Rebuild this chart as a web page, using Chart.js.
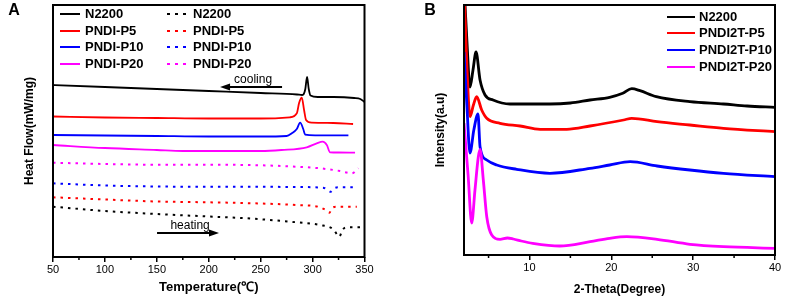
<!DOCTYPE html>
<html>
<head>
<meta charset="utf-8">
<script src="https://cdn.jsdelivr.net/npm/chart.js@4.4.0/dist/chart.umd.min.js"></script>
<style>
  body { margin: 0; background: #fff; }
  #wrap { position: relative; width: 785px; height: 300px; }
  #graficoDSC { position: absolute; left: 0; top: 0; }
  #graficoXRD { position: absolute; left: 392px; top: 0; }
</style>
</head>
<body>
<div id="wrap">
  <canvas id="graficoDSC" width="392" height="300"></canvas>
  <canvas id="graficoXRD" width="393" height="300"></canvas>
</div>
<script>
// ---- Panel A: DSC (temperature vs heat flow, arbitrary offsets) ----
const labelsA = ['N2200', 'PNDI-P5', 'PNDI-P10', 'PNDI-P20'];
const colores = ['#000000', '#ff0000', '#0000ff', '#ff00ff'];

// cooling (solid)
const tCoolN2200 = [50, 100, 150, 200, 250, 285, 290, 291.5, 293, 294.7, 296.3, 298, 305, 320, 340, 346, 350];
const hfCoolN2200 = [172, 170, 168, 166, 164, 162.5, 162, 163, 168, 180, 168, 161.5, 160, 160, 159, 158, 155];
const tCoolP5 = [50, 100, 150, 200, 250, 278, 284.8, 287, 289.6, 291.8, 293.7, 299.2, 320, 339];
const hfCoolP5 = [140.5, 139.5, 139, 138.5, 138.5, 139.7, 143.7, 154, 159.3, 147, 137, 134.3, 134, 133];
const tCoolP10 = [50, 100, 150, 200, 250, 275, 280, 284.8, 288, 291, 292.8, 302.4, 334.5];
const hfCoolP10 = [122, 121.5, 121, 120.5, 120.5, 121, 123.7, 128, 134.3, 128, 122.5, 121.7, 121.7];
const tCoolP20 = [50, 100, 150, 175, 250, 270, 294.4, 304, 309.8, 313.7, 316.9, 325, 340.9];
const hfCoolP20 = [112, 109, 107, 106, 106, 107, 109.7, 113.7, 115.3, 112, 104.7, 104.5, 104.3];

// heating (dotted)
const tHeatN2200 = [50, 100, 150, 200, 236.6, 284.8, 307.2, 320, 325.8, 328.7, 332.9, 345.8];
const hfHeatN2200 = [50.3, 46, 43, 40.5, 38.7, 34.7, 32, 27.7, 20.3, 27, 29.7, 29.7];
const tHeatP5 = [50, 100, 150, 200, 250, 284.8, 305.3, 313.7, 316.2, 318.5, 323.3, 342.6];
const hfHeatP5 = [59.7, 57.5, 55.5, 54.7, 53.5, 52, 50.3, 46.3, 44.3, 48.7, 50.3, 50.3];
const tHeatP10 = [50, 100, 150, 200, 250, 280, 310, 313.7, 317.5, 320.7, 325, 341];
const hfHeatP10 = [73.7, 71.5, 70.5, 70.3, 70.3, 70, 69.3, 67.7, 65.3, 68.7, 69.7, 69.7];
const tHeatP20 = [50, 100, 150, 200, 250, 270, 307, 326.5, 337.8, 344.1];
const hfHeatP20 = [94.3, 93, 92.3, 92.3, 91.7, 91, 88.7, 86, 83.7, 88.7];

const ticksA = [50, 100, 150, 200, 250, 300, 350];
const minorA = [75, 125, 175, 225, 275, 325];

// ---- Panel B: XRD (2-theta vs intensity) ----
const labelsB = ['N2200', 'PNDI2T-P5', 'PNDI2T-P10', 'PNDI2T-P20'];
const thN2200 = [2.0, 2.35, 2.73, 3.1, 3.47, 3.96, 4.57, 5.55, 7.62, 10, 12.5, 15, 17.4, 19.8, 21.4, 22.5, 23.5, 25.5, 29.6, 33.7, 36.6, 40];
const iN2200 = [270, 215, 168, 185, 203, 175, 160, 155, 151, 151, 151, 152, 155, 157.7, 161.7, 166.3, 164.3, 158.3, 153.3, 151, 149, 147.7];
const thP5 = [2.0, 2.35, 2.73, 3.15, 3.55, 4.16, 4.78, 6.4, 8.85, 11.3, 14.55, 17.4, 21.5, 22.5, 25.6, 29.6, 33.7, 40];
const iP5 = [270, 190, 138.3, 150, 158.3, 145, 136.7, 131.7, 129, 125.7, 125.7, 129, 135, 136.7, 133.3, 130, 126.7, 123.3];
const thP10 = [2.0, 2.35, 2.73, 3.2, 3.71, 3.96, 4.78, 6.0, 8.44, 12.5, 17.4, 19.8, 22.3, 25.6, 29.6, 33.7, 40];
const iP10 = [203, 150, 102, 125, 141, 108.3, 95, 90, 85.7, 81.7, 86.7, 90, 93.3, 89, 85, 81.7, 78.3];
const thP20 = [2.0, 2.5, 2.94, 3.34, 3.75, 3.96, 4.36, 4.78, 5.39, 6.4, 7.3, 8.03, 9, 10.4, 13.7, 17.4, 19.8, 21.9, 25.6, 29.6, 33.7, 40];
const iP20 = [132, 80, 32, 65, 98.3, 105.7, 75, 38.3, 20, 15.7, 17, 16, 14, 11.7, 9, 13.3, 16.7, 18.3, 15.7, 10.7, 8.3, 6.7];

const ticksB = [10, 20, 30, 40];
const minorB = [5, 15, 25, 35];

const FUENTE = '"Liberation Sans", Arial, sans-serif';
Chart.defaults.color = '#000';
Chart.defaults.font.family = FUENTE;

function puntos(xs, ys) {
    return xs.map((x, i) => ({ x: x, y: ys[i] }));
}

function serie(label, xs, ys, color, dotted, order, width) {
    return {
        label: label,
        data: puntos(xs, ys),
        borderColor: color,
        borderWidth: width,
        borderDash: dotted ? [2.5, 5] : [],
        pointRadius: 0,
        fill: false,
        cubicInterpolationMode: 'monotone',
        order: order
    };
}

// marco, ticks menores, letra del panel y leyenda
function panelPlugin(cfg) {
    return {
        id: 'panel' + cfg.letra,
        afterDraw(chart) {
            const ctx = chart.ctx;
            const a = chart.chartArea;
            const xs = chart.scales.x;
            ctx.save();
            ctx.strokeStyle = '#000';
            ctx.lineWidth = 2;
            ctx.setLineDash([]);
            ctx.strokeRect(a.left, a.top, a.right - a.left, a.bottom - a.top);
            ctx.lineWidth = 1.5;
            cfg.minor.forEach(v => {
                const px = xs.getPixelForValue(v);
                ctx.beginPath();
                ctx.moveTo(px, a.bottom);
                ctx.lineTo(px, a.bottom + 3);
                ctx.stroke();
            });
            ctx.fillStyle = '#000';
            ctx.font = 'bold 16px ' + FUENTE;
            ctx.textAlign = 'center';
            ctx.textBaseline = 'middle';
            ctx.fillText(cfg.letra, cfg.letraX, cfg.letraY);
            // leyenda
            ctx.font = 'bold 13px ' + FUENTE;
            ctx.textAlign = 'left';
            cfg.leyenda.forEach(it => {
                ctx.strokeStyle = it.color;
                ctx.lineWidth = 2;
                ctx.setLineDash(it.dotted ? [3, 5] : []);
                ctx.beginPath();
                ctx.moveTo(it.x, it.y);
                ctx.lineTo(it.x + it.len, it.y);
                ctx.stroke();
                ctx.fillText(it.label, it.x + it.len + cfg.gap, it.y);
            });
            ctx.restore();
        }
    };
}

function flecha(ctx, x1, x2, y) {
    const dir = x2 > x1 ? 1 : -1;
    ctx.beginPath();
    ctx.moveTo(x1, y);
    ctx.lineTo(x2 - dir * 6, y);
    ctx.stroke();
    ctx.beginPath();
    ctx.moveTo(x2, y);
    ctx.lineTo(x2 - dir * 10, y - 3.5);
    ctx.lineTo(x2 - dir * 10, y + 3.5);
    ctx.closePath();
    ctx.fill();
}

// cooling / heating
const notasPlugin = {
    id: 'notas',
    afterDatasetsDraw(chart) {
        const ctx = chart.ctx;
        const xs = chart.scales.x, ys = chart.scales.y;
        ctx.save();
        ctx.fillStyle = '#000';
        ctx.strokeStyle = '#000';
        ctx.lineWidth = 2;
        ctx.font = '12px ' + FUENTE;
        ctx.textAlign = 'center';
        ctx.textBaseline = 'middle';
        ctx.fillText('cooling', xs.getPixelForValue(242.7), ys.getPixelForValue(177));
        flecha(ctx, xs.getPixelForValue(270.6), xs.getPixelForValue(210.9), ys.getPixelForValue(170));
        ctx.fillText('heating', xs.getPixelForValue(182), ys.getPixelForValue(31));
        flecha(ctx, xs.getPixelForValue(150.2), xs.getPixelForValue(209.9), ys.getPixelForValue(24));
        ctx.restore();
    }
};

function ejes(cfg) {
    return {
        x: {
            type: 'linear',
            min: cfg.xmin,
            max: cfg.xmax,
            afterBuildTicks: s => { s.ticks = cfg.ticks.map(v => ({ value: v })); },
            afterFit: s => { s.height = cfg.xh; },
            ticks: { font: { size: 11 }, padding: 1, maxRotation: 0, color: '#000' },
            grid: { display: true, drawOnChartArea: false, drawTicks: true, tickLength: 5, color: '#000', lineWidth: 1.5 },
            border: { display: false },
            title: { display: true, text: cfg.xTitulo, font: { size: cfg.xSize, weight: 'bold' }, padding: { top: 0, bottom: cfg.xPad }, color: '#000' }
        },
        y: {
            type: 'linear',
            min: cfg.ymin,
            max: cfg.ymax,
            afterFit: s => { s.width = cfg.yw; },
            ticks: { display: false },
            grid: { display: false },
            border: { display: false },
            title: { display: true, text: cfg.yTitulo, font: { size: 12, weight: 'bold' }, padding: { top: cfg.yPad, bottom: 0 }, color: '#000' }
        }
    };
}

// Grafico A
const coolT = [tCoolN2200, tCoolP5, tCoolP10, tCoolP20];
const coolH = [hfCoolN2200, hfCoolP5, hfCoolP10, hfCoolP20];
const heatT = [tHeatN2200, tHeatP5, tHeatP10, tHeatP20];
const heatH = [hfHeatN2200, hfHeatP5, hfHeatP10, hfHeatP20];
const dsA = [];
const leyA = [];
const filasA = [14, 31, 47, 64];
labelsA.forEach((lab, i) => {
    dsA.push(serie(lab, coolT[i], coolH[i], colores[i], false, 8 - i, 1.8));
    leyA.push({ label: lab, color: colores[i], dotted: false, x: 60, y: filasA[i], len: 20 });
});
labelsA.forEach((lab, i) => {
    dsA.push(serie(lab, heatT[i], heatH[i], colores[i], true, 4 - i, 2));
    leyA.push({ label: lab, color: colores[i], dotted: true, x: 167, y: filasA[i], len: 21 });
});

new Chart(document.getElementById('graficoDSC').getContext('2d'), {
    type: 'line',
    data: { datasets: dsA },
    options: {
        responsive: false,
        animation: false,
        layout: { padding: { top: 5, right: 27.5, bottom: 0, left: 0 } },
        plugins: { legend: { display: false }, tooltip: { enabled: false } },
        scales: ejes({
            xmin: 50, xmax: 350, ticks: ticksA, xh: 43, xTitulo: 'Temperature(℃)', xSize: 13, xPad: 5,
            ymin: 0, ymax: 252, yw: 53, yTitulo: 'Heat Flow(mW/mg)', yPad: 22
        })
    },
    plugins: [notasPlugin, panelPlugin({ letra: 'A', letraX: 14, letraY: 11, minor: minorA, leyenda: leyA, gap: 5 })]
});

// Grafico B
const thB = [thN2200, thP5, thP10, thP20];
const iB = [iN2200, iP5, iP10, iP20];
const filasB = [17, 33, 50, 67];
const dsB = labelsB.map((lab, i) => serie(lab, thB[i], iB[i], colores[i], false, 4 - i, 2.8));
const leyB = labelsB.map((lab, i) => ({ label: lab, color: colores[i], dotted: false, x: 275, y: filasB[i], len: 28 }));

new Chart(document.getElementById('graficoXRD').getContext('2d'), {
    type: 'line',
    data: { datasets: dsB },
    options: {
        responsive: false,
        animation: false,
        layout: { padding: { top: 5, right: 10, bottom: 0, left: 0 } },
        plugins: { legend: { display: false }, tooltip: { enabled: false } },
        scales: ejes({
            xmin: 2, xmax: 40, ticks: ticksB, xh: 45, xTitulo: '2-Theta(Degree)', xSize: 12, xPad: 3,
            ymin: 0, ymax: 250, yw: 72, yTitulo: 'Intensity(a.u)', yPad: 41
        })
    },
    plugins: [panelPlugin({ letra: 'B', letraX: 38, letraY: 11, minor: minorB, leyenda: leyB, gap: 4 })]
});
</script>
</body>
</html>
